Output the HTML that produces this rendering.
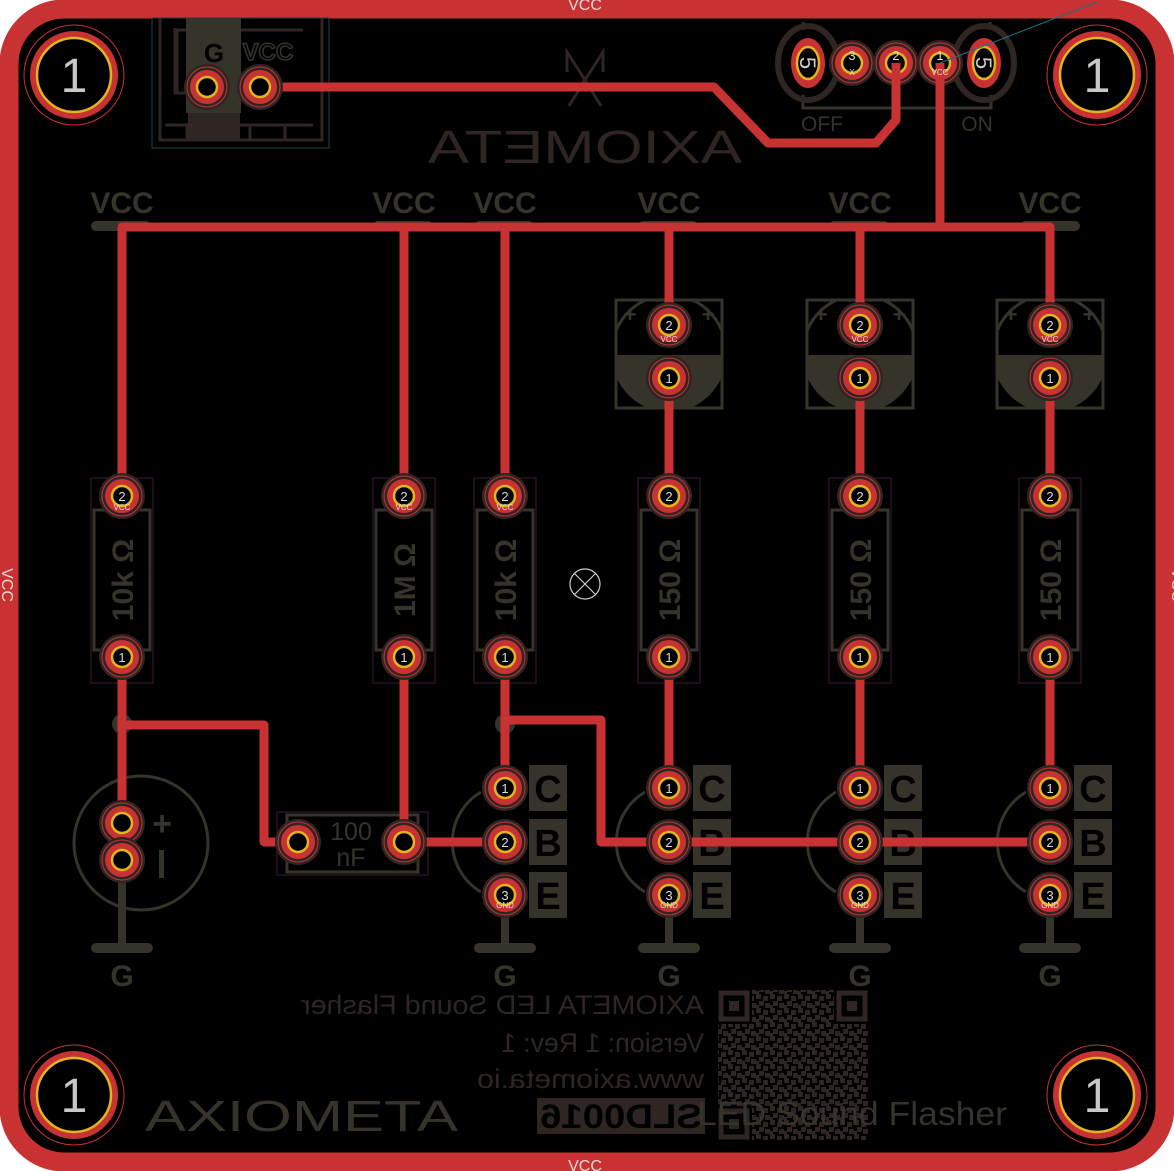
<!DOCTYPE html>
<html><head><meta charset="utf-8"><style>
html,body{margin:0;padding:0;background:#fff;}
svg{display:block;}
text{font-family:"Liberation Sans",sans-serif;}
</style></head><body>
<svg width="1174" height="1171" viewBox="0 0 1174 1171" xmlns="http://www.w3.org/2000/svg">
<defs>
 <g id="pad">
  <circle r="23" fill="#2f2523"/>
  <circle r="20" fill="none" stroke="#c83232" stroke-width="1"/>
  <circle r="17" fill="#c83232"/>
  <circle r="10" fill="#000" stroke="#e0b51e" stroke-width="2.5"/>
 </g>
 <g id="hole">
  <circle r="50" fill="none" stroke="#c83232" stroke-width="1"/>
  <circle r="47" fill="#000"/>
  <circle r="44" fill="#c83232"/>
  <circle r="37" fill="#000" stroke="#e0b51e" stroke-width="2.5"/>
  <text x="0" y="17" font-size="48" fill="#c8c8c8" text-anchor="middle">1</text>
 </g>
 <g id="res">
  <rect x="-31" y="-18" width="62" height="205" fill="none" stroke="#3a1a3a" stroke-width="1"/>
  <rect x="-28" y="14" width="56" height="140" fill="none" stroke="#36332a" stroke-width="3"/>
 </g>
 <clipPath id="capclip"><rect x="-53" y="-25" width="106" height="108"/></clipPath>
 <g id="ecap">
  <g clip-path="url(#capclip)">
   <circle cx="0" cy="27" r="57" fill="none" stroke="#36332a" stroke-width="3"/>
   <path d="M-57,30 L57,30 A57,57 0 0 1 -57,30 Z" fill="#36332a"/>
  </g>
  <rect x="-53" y="-25" width="106" height="108" fill="none" stroke="#36332a" stroke-width="3"/>
  <text x="-39" y="-3" font-size="22" font-weight="bold" fill="#36332a" text-anchor="middle">+</text>
  <text x="39" y="-3" font-size="22" font-weight="bold" fill="#36332a" text-anchor="middle">+</text>
 </g>
 <g id="tr">
  <path d="M-24,4 A58,58 0 0 0 -24,104" fill="none" stroke="#36332a" stroke-width="3"/>
  <rect x="24" y="-23" width="38" height="46" fill="#36332a"/>
  <rect x="24" y="31" width="38" height="46" fill="#36332a"/>
  <rect x="24" y="84" width="38" height="46" fill="#36332a"/>
  <text x="43" y="14" font-size="38" font-weight="bold" fill="#000" text-anchor="middle">C</text>
  <text x="43" y="68" font-size="38" font-weight="bold" fill="#000" text-anchor="middle">B</text>
  <text x="43" y="121" font-size="38" font-weight="bold" fill="#000" text-anchor="middle">E</text>
  <rect x="-4" y="107" width="8" height="53" fill="#36332a"/>
  <rect x="-31" y="155" width="62" height="10" rx="5" fill="#36332a"/>
  <text x="0" y="198" font-size="30" font-weight="bold" fill="#36332a" text-anchor="middle">G</text>
 </g>
</defs>
<rect x="0" y="0" width="1174" height="1171" fill="#fff"/>
<rect x="0" y="0" width="1174" height="1171" rx="64" fill="#000"/>
<rect x="9" y="9" width="1156" height="1153" rx="55" fill="none" stroke="#c83232" stroke-width="19"/>
<text x="585" y="10" font-size="16" fill="#e8d8d8" text-anchor="middle">VCC</text>
<text x="585" y="1171" font-size="16" fill="#e8d8d8" text-anchor="middle">VCC</text>
<text transform="translate(2,585) rotate(90)" font-size="16" fill="#e8d8d8" text-anchor="middle">VCC</text>
<text transform="translate(1172,585) rotate(90)" font-size="16" fill="#e8d8d8" text-anchor="middle">VCC</text>

<!-- power connector -->
<rect x="152" y="18" width="177" height="130" fill="none" stroke="#1a4650" stroke-width="1"/>
<path d="M160,18 V140 H322 V18" fill="none" stroke="#2f2523" stroke-width="3"/>
<path d="M175,28 V93 H187 M303,30 H177 V93" fill="none" stroke="#2f2523" stroke-width="3"/>
<path d="M165,125 H313 M187,125 V140 M250,125 V140 M285,125 V140" fill="none" stroke="#2f2523" stroke-width="3"/>
<rect x="186" y="18" width="55" height="95" fill="#36332a"/>
<rect x="188" y="113" width="52" height="27" fill="#2f2523"/>
<text x="214" y="62" font-size="26" font-weight="bold" fill="#000" text-anchor="middle">G</text>
<text x="268" y="60" font-size="24" font-weight="bold" fill="#000" stroke="#36332a" stroke-width="1.5" text-anchor="middle">VCC</text>

<!-- logos -->
<path d="M567,72 V52 L585,80 L603,52 V72 M569,106 L585,80 L601,106" fill="none" stroke="#2f2523" stroke-width="3"/>
<text x="428" y="163" font-size="46" fill="#2f2523" textLength="314" lengthAdjust="spacingAndGlyphs" transform="translate(1170,0) scale(-1,1)">AXIOMETA</text>
<text x="145" y="1131" font-size="44" fill="#36332a" textLength="313" lengthAdjust="spacingAndGlyphs">AXIOMETA</text>

<!-- header -->
<path d="M803,22 V30 M990,22 V30" stroke="#36332a" stroke-width="3"/>
<path d="M803,95 V108 H991 V95" fill="none" stroke="#36332a" stroke-width="3"/>
<text x="822" y="131" font-size="21" fill="#36332a" text-anchor="middle">OFF</text>
<text x="977" y="131" font-size="21" fill="#36332a" text-anchor="middle">ON</text>
<ellipse cx="808" cy="63" rx="30" ry="37" fill="none" stroke="#2f2523" stroke-width="6"/>
<ellipse cx="984" cy="63" rx="30" ry="37" fill="none" stroke="#2f2523" stroke-width="6"/>
<use href="#pad" x="852" y="63"/><use href="#pad" x="896" y="63"/><use href="#pad" x="940" y="63"/>
<ellipse cx="808" cy="63" rx="17" ry="25" fill="#c83232"/>
<ellipse cx="808" cy="63" rx="11" ry="16" fill="#000" stroke="#e0b51e" stroke-width="2.5"/>
<ellipse cx="984" cy="63" rx="17" ry="25" fill="#c83232"/>
<ellipse cx="984" cy="63" rx="11" ry="16" fill="#000" stroke="#e0b51e" stroke-width="2.5"/>
<text transform="translate(808,63) rotate(90)" font-size="22" fill="#ccc" text-anchor="middle" y="8">5</text>
<text transform="translate(984,63) rotate(90)" font-size="22" fill="#ccc" text-anchor="middle" y="8">5</text>
<line x1="940" y1="63" x2="1097" y2="2" stroke="#1a7080" stroke-width="1"/>

<!-- silk VCC labels & bars -->
<g font-size="30" font-weight="bold" fill="#36332a" text-anchor="middle">
<text x="122" y="213">VCC</text><text x="404" y="213">VCC</text><text x="505" y="213">VCC</text>
<text x="669" y="213">VCC</text><text x="860" y="213">VCC</text><text x="1050" y="213">VCC</text>
</g>
<g fill="#36332a">
<rect x="91" y="221" width="60" height="10" rx="5"/><rect x="373" y="221" width="60" height="10" rx="5"/>
<rect x="474" y="221" width="60" height="10" rx="5"/><rect x="638" y="221" width="60" height="10" rx="5"/>
<rect x="829" y="221" width="60" height="10" rx="5"/><rect x="1020" y="221" width="60" height="10" rx="5"/>
<circle cx="122" cy="724" r="10"/><circle cx="505" cy="724" r="10"/>
</g>

<!-- component outlines -->
<use href="#res" x="122" y="496"/><use href="#res" x="404" y="496"/><use href="#res" x="505" y="496"/>
<use href="#res" x="669" y="496"/><use href="#res" x="860" y="496"/><use href="#res" x="1050" y="496"/>
<g font-size="30" font-weight="bold" fill="#36332a" text-anchor="middle">
<text transform="translate(133,580) rotate(-90)">10k Ω</text>
<text transform="translate(415,580) rotate(-90)">1M Ω</text>
<text transform="translate(516,580) rotate(-90)">10k Ω</text>
<text transform="translate(680,580) rotate(-90)">150 Ω</text>
<text transform="translate(871,580) rotate(-90)">150 Ω</text>
<text transform="translate(1061,580) rotate(-90)">150 Ω</text>
</g>
<use href="#ecap" x="669" y="325"/><use href="#ecap" x="860" y="325"/><use href="#ecap" x="1050" y="325"/>
<use href="#tr" x="505" y="788"/><use href="#tr" x="669" y="788"/><use href="#tr" x="860" y="788"/><use href="#tr" x="1050" y="788"/>
<circle cx="141" cy="843" r="67" fill="none" stroke="#36332a" stroke-width="3"/>
<text x="162" y="835" font-size="34" font-weight="bold" fill="#36332a" text-anchor="middle">+</text>
<rect x="159" y="850" width="5" height="28" fill="#36332a"/>
<rect x="118" y="880" width="8" height="65" fill="#36332a"/>
<rect x="91" y="943" width="62" height="10" rx="5" fill="#36332a"/>
<text x="122" y="986" font-size="30" font-weight="bold" fill="#36332a" text-anchor="middle">G</text>
<rect x="277" y="812" width="151" height="63" fill="none" stroke="#3a1a3a" stroke-width="1"/>
<rect x="287" y="815" width="131" height="57" fill="none" stroke="#36332a" stroke-width="3"/>
<text x="351" y="840" font-size="25" fill="#36332a" text-anchor="middle">100</text>
<text x="351" y="866" font-size="25" fill="#36332a" text-anchor="middle">nF</text>

<!-- traces -->
<g fill="none" stroke="#c83232" stroke-width="9" stroke-linejoin="round">
<path d="M122,496 V227 H1050 V325"/>
<path d="M404,227 V496 M505,227 V496 M669,227 V325 M860,227 V325 M940,63 V227"/>
<path d="M669,378 V496 M860,378 V496 M1050,378 V496"/>
<path d="M669,657 V788 M860,657 V788 M1050,657 V788 M505,657 V788"/>
<path d="M122,657 V823 M122,725 H264 V842 H298"/>
<path d="M404,657 V842 H505"/>
<path d="M505,720 H601 V842 H1050"/>
<path d="M260,87 H714 L768,143 H876 L896,120 V63"/>
</g>

<!-- pads -->
<use href="#pad" x="207" y="87"/><use href="#pad" x="260" y="87"/>
<g>
<use href="#pad" x="122" y="496"/><use href="#pad" x="404" y="496"/><use href="#pad" x="505" y="496"/>
<use href="#pad" x="669" y="496"/><use href="#pad" x="860" y="496"/><use href="#pad" x="1050" y="496"/>
<use href="#pad" x="122" y="657"/><use href="#pad" x="404" y="657"/><use href="#pad" x="505" y="657"/>
<use href="#pad" x="669" y="657"/><use href="#pad" x="860" y="657"/><use href="#pad" x="1050" y="657"/>
<use href="#pad" x="669" y="325"/><use href="#pad" x="860" y="325"/><use href="#pad" x="1050" y="325"/>
<use href="#pad" x="669" y="378"/><use href="#pad" x="860" y="378"/><use href="#pad" x="1050" y="378"/>
<use href="#pad" x="505" y="788"/><use href="#pad" x="669" y="788"/><use href="#pad" x="860" y="788"/><use href="#pad" x="1050" y="788"/>
<use href="#pad" x="505" y="842"/><use href="#pad" x="669" y="842"/><use href="#pad" x="860" y="842"/><use href="#pad" x="1050" y="842"/>
<use href="#pad" x="505" y="895"/><use href="#pad" x="669" y="895"/><use href="#pad" x="860" y="895"/><use href="#pad" x="1050" y="895"/>
<use href="#pad" x="122" y="823"/><use href="#pad" x="122" y="860"/>
<use href="#pad" x="298" y="842"/><use href="#pad" x="404" y="842"/>
</g>
<g font-size="13" fill="#ddd" text-anchor="middle">
<text x="122" y="501">2</text><text x="404" y="501">2</text><text x="505" y="501">2</text><text x="669" y="501">2</text><text x="860" y="501">2</text><text x="1050" y="501">2</text>
<text x="122" y="662">1</text><text x="404" y="662">1</text><text x="505" y="662">1</text><text x="669" y="662">1</text><text x="860" y="662">1</text><text x="1050" y="662">1</text>
<text x="669" y="330">2</text><text x="860" y="330">2</text><text x="1050" y="330">2</text>
<text x="669" y="383">1</text><text x="860" y="383">1</text><text x="1050" y="383">1</text>
<text x="852" y="60">3</text><text x="896" y="60">2</text><text x="940" y="60">1</text>
<text x="505" y="793">1</text><text x="669" y="793">1</text><text x="860" y="793">1</text><text x="1050" y="793">1</text>
<text x="505" y="847">2</text><text x="669" y="847">2</text><text x="860" y="847">2</text><text x="1050" y="847">2</text>
<text x="505" y="900">3</text><text x="669" y="900">3</text><text x="860" y="900">3</text><text x="1050" y="900">3</text>
</g>
<g font-size="8" fill="#ddd" text-anchor="middle">
<text x="669" y="342">VCC</text><text x="860" y="342">VCC</text><text x="1050" y="342">VCC</text>
<text x="122" y="510">VCC</text><text x="404" y="510">VCC</text><text x="505" y="510">VCC</text>
<text x="940" y="75">VCC</text><text x="852" y="75">X</text>
<text x="505" y="908">GND</text><text x="669" y="908">GND</text><text x="860" y="908">GND</text><text x="1050" y="908">GND</text>
</g>

<use href="#hole" x="74" y="75"/><use href="#hole" x="1097" y="75"/>
<use href="#hole" x="74" y="1095"/><use href="#hole" x="1097" y="1095"/>

<!-- center marker -->
<circle cx="585" cy="584" r="15" fill="none" stroke="#ccc" stroke-width="1.2"/>
<path d="M574,573 L596,595 M596,573 L574,595" stroke="#ccc" stroke-width="1.2"/>

<!-- bottom text -->
<g fill="#2f2523" font-size="27">
<text transform="translate(1004,0) scale(-1,1)" x="300" y="1014" textLength="403" lengthAdjust="spacingAndGlyphs">AXIOMETA LED Sound Flasher</text>
<text transform="translate(1204,0) scale(-1,1)" x="500" y="1052" textLength="203" lengthAdjust="spacingAndGlyphs">Version: 1 Rev: 1</text>
<text transform="translate(1180,0) scale(-1,1)" x="476" y="1088" textLength="227" lengthAdjust="spacingAndGlyphs">www.axiometa.io</text>
</g>
<rect x="537" y="1098" width="168" height="36" fill="#2f2523"/>
<text transform="translate(1242,0) scale(-1,1)" x="540" y="1128" font-size="34" font-weight="bold" fill="#000" textLength="162" lengthAdjust="spacingAndGlyphs">SLD0016</text>
<!-- QR -->
<defs><pattern id="qr" width="14" height="14" patternUnits="userSpaceOnUse">
<rect width="14" height="14" fill="#000"/>
<rect x="0" y="0" width="5" height="5" fill="#2f2523"/><rect x="7" y="2" width="5" height="5" fill="#2f2523"/>
<rect x="3" y="7" width="5" height="5" fill="#2f2523"/><rect x="9" y="9" width="5" height="5" fill="#2f2523"/>
<rect x="0" y="11" width="3" height="3" fill="#2f2523"/></pattern></defs>
<rect x="718" y="990" width="150" height="150" fill="url(#qr)"/>
<g fill="#000"><rect x="718" y="990" width="34" height="34"/><rect x="834" y="990" width="34" height="34"/><rect x="718" y="1106" width="34" height="34"/></g>
<g fill="none" stroke="#2f2523" stroke-width="5">
<rect x="721" y="993" width="26" height="26"/><rect x="839" y="993" width="26" height="26"/><rect x="721" y="1111" width="26" height="26"/>
</g>
<g fill="#2f2523"><rect x="729" y="1001" width="10" height="10"/><rect x="847" y="1001" width="10" height="10"/><rect x="729" y="1119" width="10" height="10"/></g>
<text x="697" y="1125" font-size="33" fill="#36332a" textLength="310" lengthAdjust="spacingAndGlyphs">LED Sound Flasher</text>
</svg>
</body></html>
